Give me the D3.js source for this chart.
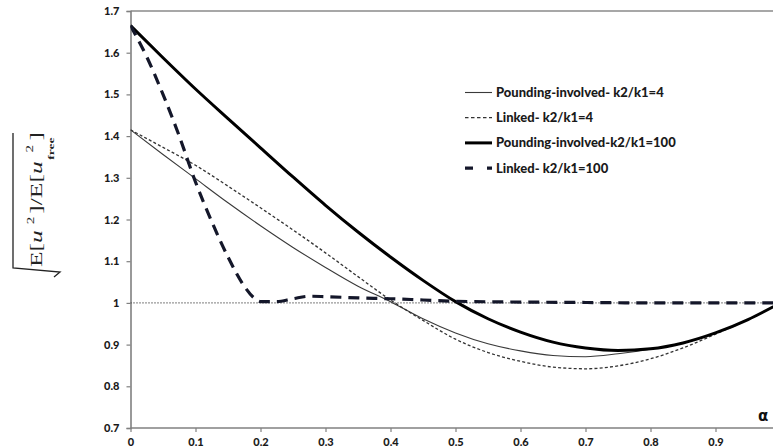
<!DOCTYPE html>
<html><head><meta charset="utf-8">
<script src="https://cdn.jsdelivr.net/npm/d3@7"></script>
<style>html,body{margin:0;padding:0;background:#fff;overflow:hidden}</style>
</head><body>
<svg id="c" width="773" height="447"></svg>
<script>
// ---- data ----
const alphaGrid = [0,0.05,0.1,0.15,0.2,0.25,0.3,0.35,0.4,0.45,0.5,0.55,0.6,0.65,0.7,0.75,0.8,0.85,0.9,0.95,1.0];
const pounding4 = [1.415,1.356,1.298,1.24,1.185,1.133,1.085,1.04,1.003,0.962,0.928,0.902,0.885,0.874,0.871,0.878,0.889,0.904,0.928,0.96,1.0];
const linked4   = [1.415,1.373,1.33,1.28,1.228,1.175,1.12,1.063,1.007,0.958,0.913,0.881,0.86,0.846,0.842,0.849,0.866,0.892,0.925,0.96,1.0];
const pounding100 = [1.665,1.588,1.513,1.442,1.372,1.302,1.234,1.17,1.11,1.054,1.003,0.962,0.93,0.906,0.892,0.886,0.89,0.904,0.928,0.96,1.0];
const alphaLinked100 = [0,0.025,0.05,0.075,0.1,0.125,0.15,0.175,0.19,0.2,0.225,0.25,0.275,0.3,0.35,0.4,0.45,0.5,0.6,0.7,0.8,0.9,1.0];
const linked100 = [1.665,1.59,1.50,1.40,1.29,1.195,1.11,1.04,1.012,1.003,1.003,1.01,1.016,1.015,1.012,1.01,1.007,1.004,1.002,1.001,1.0,1.0,1.0];
const refLine = [1.0, 1.0];
const refAlpha = [0, 1.0];
const xTicks = [0,0.1,0.2,0.3,0.4,0.5,0.6,0.7,0.8,0.9];
const xTickLabels = ["0","0.1","0.2","0.3","0.4","0.5","0.6","0.7","0.8","0.9"];
const yTicks = [0.7,0.8,0.9,1.0,1.1,1.2,1.3,1.4,1.5,1.6,1.7];
const yTickLabels = ["0.7","0.8","0.9","1","1.1","1.2","1.3","1.4","1.5","1.6","1.7"];
const seriesNames = ["Pounding-involved- k2/k1=4","Linked- k2/k1=4","Pounding-involved-k2/k1=100","Linked- k2/k1=100"];

// ---- chart ----
const svg = d3.select("#c");
const x = d3.scaleLinear().domain([0,1]).range([130.5,780.5]);
const y = d3.scaleLinear().domain([0.7,1.7]).range([428,11]);
const W = 773;

const styles = [
  {stroke:"#3a3a3a", width:1.1, dash:null},
  {stroke:"#333", width:1.3, dash:"3,2.2"},
  {stroke:"#000", width:3, dash:null},
  {stroke:"#14172a", width:3.2, dash:"11,7"}
];
const legendDash = [null,"3.5,2.5",null,"8,14"];

// frame top
svg.append("line").attr("x1",x(0)).attr("x2",W).attr("y1",y(1.7)).attr("y2",y(1.7))
  .attr("stroke","#8a8a8a").attr("stroke-width",1.5);

// axes
const yAxis = d3.axisLeft(y).tickValues(yTicks).tickSize(4).tickPadding(7)
  .tickFormat((d,i)=>yTickLabels[i]);
const gy = svg.append("g").attr("transform",`translate(${x(0)},0)`).call(yAxis);
gy.select(".domain").attr("stroke","#808080").attr("stroke-width",1.6);

const xAxis = d3.axisBottom(x).tickValues(xTicks).tickSize(4).tickPadding(6)
  .tickFormat((d,i)=>xTickLabels[i]);
const gx = svg.append("g").attr("transform",`translate(0,${y(0.7)})`).call(xAxis);
gx.select(".domain").remove();
svg.append("line").attr("x1",x(0)).attr("x2",W).attr("y1",y(0.7)).attr("y2",y(0.7))
  .attr("stroke","#808080").attr("stroke-width",1.6);

svg.selectAll(".tick line").attr("stroke","#808080").attr("stroke-width",1.2);
svg.selectAll(".tick text").attr("font-family","Lato, 'Open Sans', sans-serif")
  .attr("font-weight","900").attr("font-size","11px").attr("fill","#1a1a1a");

// clip
svg.append("clipPath").attr("id","plot").append("rect")
  .attr("x",x(0)).attr("y",y(1.7)).attr("width",W-x(0)).attr("height",y(0.7)-y(1.7));

const line = d3.line().x(d=>x(d[0])).y(d=>y(d[1])).curve(d3.curveMonotoneX);
const plot = svg.append("g").attr("clip-path","url(#plot)");

// reference dotted line at 1
plot.append("path").datum(refAlpha.map((a,i)=>[a,refLine[i]]))
  .attr("d",d3.line().x(d=>x(d[0])).y(d=>y(d[1])))
  .attr("fill","none").attr("stroke","#333").attr("stroke-width",1.1).attr("stroke-dasharray","1,2");

const datasets = [
  alphaGrid.map((a,i)=>[a,pounding4[i]]),
  alphaGrid.map((a,i)=>[a,linked4[i]]),
  alphaGrid.map((a,i)=>[a,pounding100[i]]),
  alphaLinked100.map((a,i)=>[a,linked100[i]])
];
datasets.forEach((ds,i)=>{
  plot.append("path").datum(ds).attr("d",line).attr("fill","none")
    .attr("stroke",styles[i].stroke).attr("stroke-width",styles[i].width)
    .attr("stroke-dasharray",styles[i].dash);
});

// legend
const leg = svg.append("g");
const legY0 = 92.5, legStep = 25.2;
seriesNames.forEach((n,i)=>{
  const yy = legY0 + i*legStep;
  leg.append("line").attr("x1",465).attr("x2",492).attr("y1",yy).attr("y2",yy)
    .attr("stroke",styles[i].stroke).attr("stroke-width",styles[i].width)
    .attr("stroke-dasharray",legendDash[i]);
  leg.append("text").attr("x",496).attr("y",yy+4.5)
    .attr("font-family","Lato, 'Open Sans', sans-serif").attr("font-weight","900")
    .attr("font-size","13px").attr("fill","#1a1a1a").text(n);
});

// x label
svg.append("text").attr("x",758).attr("y",421).attr("font-family","'DejaVu Sans', sans-serif")
  .attr("font-weight","bold").attr("font-size","15px").attr("fill","#111").text("α");

// y label: sqrt(E[u^2]/E[u_free^2])
svg.append("path").attr("d","M13,133 V268 L60,272 L54,277")
  .attr("fill","none").attr("stroke","#222").attr("stroke-width",1.3);
const yl = svg.append("text").attr("transform","translate(42,267) rotate(-90) scale(1.5,1)")
  .attr("font-family","'Liberation Serif', serif").attr("font-size","17px").attr("fill","#222");
yl.append("tspan").text("E[");
yl.append("tspan").attr("font-style","italic").text("u");
yl.append("tspan").attr("font-size","10px").attr("dx",4).attr("dy",-8).text("2");
yl.append("tspan").attr("dx",2).attr("dy",8).text("]/E[");
yl.append("tspan").attr("font-style","italic").text("u");
yl.append("tspan").attr("font-size","9px").attr("font-weight","bold").attr("dx",1).attr("dy",12).text("free");
yl.append("tspan").attr("font-size","10px").attr("dx",-10).attr("dy",-21).text("2");
yl.append("tspan").attr("dx",3).attr("dy",9).text("]");
</script>
</body></html>
